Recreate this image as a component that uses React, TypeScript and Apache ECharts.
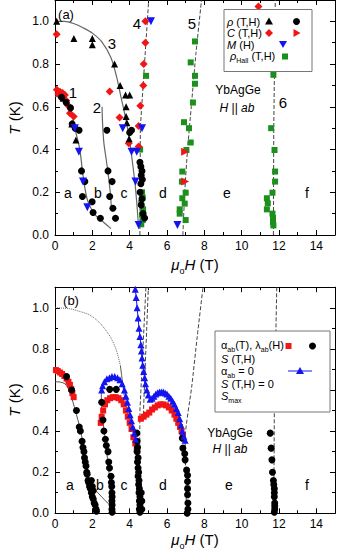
import React, { useEffect, useRef } from 'react';
import * as echarts from 'echarts';

const FONT = '"Liberation Sans", Arial, sans-serif';

// ---------- Panel (a) ----------
const rhoTriA = [[0.09,1.0],[1.01,0.92],[2.0,0.92],[2.0,0.89],[3.19,0.80],[3.49,0.70],[3.78,0.655],[4.0,0.655],[3.81,0.60],[3.81,0.555],[0.44,0.64],[0.9,0.52],[1.12,0.445],[3.85,0.525],[3.97,0.45]];
const rhoCircA = [[0.35,0.645],[0.6,0.62],[0.83,0.595],[0.92,0.52],[1.08,0.50],[1.29,0.49],[1.42,0.30],[1.6,0.25],[1.47,0.18],[1.99,0.156],[2.04,0.105],[2.43,0.078],[2.78,0.49],[2.84,0.30],[3.06,0.25],[2.93,0.18],[3.1,0.125],[3.24,0.078],[4.0,0.48],[4.1,0.49],[4.55,0.34],[4.6,0.32],[4.66,0.30],[4.62,0.28],[4.68,0.26],[4.6,0.24],[4.56,0.2],[4.66,0.17],[4.62,0.14],[4.72,0.1],[4.8,0.08]];
const cDiamA = [[0.09,0.94],[0.1,0.68],[0.18,0.66],[0.27,0.67],[0.35,0.655],[0.41,0.665],[0.53,0.655],[0.6,0.63],[0.71,0.605],[0.8,0.57],[1.0,0.555],[2.93,0.672],[3.46,0.55],[3.95,0.43],[4.84,1.0],[4.84,0.90],[4.75,0.80],[4.73,0.70],[4.57,0.605],[4.48,0.51],[4.48,0.414],[10.9,1.07]];
const cTriA = [[6.97,0.39],[6.97,0.25]];
const mA = [[5.14,1.0],[1.06,0.50],[3.63,0.50],[4.66,0.50],[1.28,0.39],[1.5,0.25],[1.73,0.13],[4.1,0.39],[4.38,0.39],[4.31,0.25],[4.48,0.047],[6.56,0.047]];
const hallA = [[4.88,0.745],[4.56,0.40],[4.66,0.2],[4.7,0.175],[4.62,0.15],[4.72,0.12],[4.66,0.095],[4.7,0.07],[4.62,0.05],[7.5,0.906],[7.27,0.808],[7.5,0.745],[7.5,0.708],[7.39,0.62],[6.91,0.528],[7.18,0.50],[7.27,0.433],[7.04,0.398],[6.82,0.297],[6.8,0.25],[7.0,0.198],[6.82,0.172],[6.95,0.147],[6.68,0.12],[6.68,0.1],[7.0,0.07],[11.7,0.75],[11.58,0.50],[11.76,0.398],[11.79,0.297],[11.79,0.25],[11.65,0.198],[11.35,0.172],[11.4,0.148],[11.35,0.12],[11.65,0.1],[11.68,0.08],[11.68,0.06],[11.7,0.045]];
const curve1A = [[0,0.65],[0.4,0.64],[0.8,0.6],[1.06,0.5],[1.33,0.4],[1.5,0.28],[1.75,0.16],[2.2,0.09],[2.6,0.06],[3.0,0.03]];
const curve2A = [[2.52,0.6],[2.55,0.52],[2.62,0.43],[2.75,0.35],[2.87,0.27],[2.96,0.2],[3.02,0.13]];
const curve3A = [[0,1.0],[0.5,1.0],[1.0,0.99],[1.5,0.97],[2.0,0.945],[2.5,0.905],[3.0,0.83],[3.3,0.74],[3.55,0.64],[3.8,0.54],[4.0,0.44],[4.15,0.34],[4.3,0.23],[4.4,0.13],[4.48,0.03]];
const line4A = [[4.55,0],[4.57,0.5],[5.02,1.1]];
const line5A = [[6.85,0],[6.95,0.2],[7.1,0.4],[7.3,0.6],[7.55,0.85],[7.85,1.1]];
const line6A = [[11.7,0],[11.72,0.5],[11.8,1.1]];

// ---------- Panel (b) ----------
const alphaB1 = [[0.05,0.697],[0.15,0.692],[0.27,0.685],[0.38,0.678],[0.5,0.668],[0.62,0.655],[0.72,0.64],[0.8,0.625],[0.87,0.605],[0.93,0.585],[1.0,0.565]];
const alphaB2 = [[2.45,0.44],[2.5,0.47],[2.58,0.5],[2.68,0.53],[2.8,0.55],[2.95,0.56],[3.1,0.565],[3.25,0.565],[3.4,0.56],[3.55,0.55],[3.68,0.53],[3.8,0.5],[3.9,0.47],[4.0,0.44],[4.1,0.41],[4.2,0.37],[4.3,0.34],[4.38,0.31]];
const alphaB3 = [[4.6,0.46],[4.75,0.47],[4.9,0.48],[5.05,0.49],[5.2,0.505],[5.35,0.515],[5.5,0.525],[5.65,0.53],[5.8,0.53],[5.95,0.525],[6.1,0.515],[6.25,0.5],[6.4,0.48],[6.5,0.46],[6.6,0.44],[6.7,0.42],[6.78,0.4],[6.85,0.38]];
const lambdaB = [
  [0.62,0.665],[0.89,0.60],[1.15,0.50],[1.3,0.42],[1.36,0.40],[1.45,0.35],[1.5,0.32],[1.55,0.30],[1.58,0.27],[1.62,0.25],[1.66,0.23],[1.7,0.2],[1.72,0.19],[1.77,0.16],[1.8,0.15],[1.85,0.13],[1.9,0.12],[1.95,0.10],[2.0,0.08],[2.05,0.07],[2.1,0.05],[2.15,0.04],[2.2,0.02],[2.22,0.01],[1.95,0.16],[2.0,0.13],[2.05,0.11],
  [2.93,0.603],[3.28,0.603],[2.5,0.54],[2.57,0.454],[2.62,0.40],[2.7,0.36],[2.75,0.33],[2.84,0.30],[2.88,0.25],[2.92,0.22],[3.0,0.18],[3.02,0.15],[3.04,0.13],[3.05,0.1],[3.06,0.08],[3.05,0.06],[3.06,0.04],[3.05,0.02],[3.06,0.005],
  [4.38,0.39],[4.4,0.35],[4.42,0.32],[4.4,0.3],[4.45,0.27],[4.42,0.25],[4.45,0.22],[4.48,0.2],[4.45,0.18],[4.5,0.16],[4.48,0.14],[4.52,0.12],[4.5,0.1],[4.55,0.08],[4.52,0.06],[4.55,0.04],[4.52,0.02],[4.55,0.005],[4.62,0.1],[4.65,0.06],[4.65,0.02],
  [6.82,0.365],[6.85,0.317],[6.95,0.29],[6.97,0.26],[7.05,0.21],[7.1,0.185],[7.1,0.155],[7.1,0.12],[7.1,0.09],[7.12,0.05],[7.12,0.02],[7.08,0.0],
  [11.53,0.39],[11.58,0.317],[11.62,0.26],[11.65,0.2],[11.7,0.16],[11.72,0.14],[11.75,0.12],[11.75,0.1],[11.75,0.08],[11.77,0.05],[11.77,0.035],[11.77,0.02],[11.75,0.005]
];
const blueB1 = [[2.5,0.6],[2.55,0.62],[2.65,0.64],[2.78,0.655],[2.92,0.66],[3.05,0.665],[3.2,0.665],[3.35,0.66],[3.48,0.65],[3.6,0.63],[3.72,0.6],[3.8,0.57],[3.88,0.54],[3.95,0.51],[4.02,0.48],[4.1,0.45],[4.17,0.42],[4.25,0.39],[4.32,0.36]];
const blueB2 = [[4.3,1.09],[4.35,1.05],[4.4,1.0],[4.45,0.95],[4.5,0.9],[4.55,0.86],[4.6,0.82],[4.63,0.79],[4.66,0.755],[4.7,0.72],[4.75,0.69],[4.8,0.66],[4.85,0.63],[4.92,0.6],[5.0,0.575],[5.1,0.555],[5.2,0.56],[5.3,0.57],[5.4,0.58],[5.5,0.587],[5.6,0.59],[5.7,0.59],[5.8,0.59],[5.9,0.585],[6.0,0.58],[6.1,0.57],[6.2,0.56],[6.3,0.545],[6.4,0.53],[6.5,0.51],[6.6,0.49],[6.68,0.46],[6.75,0.43],[6.82,0.4],[6.9,0.375],[6.97,0.355]];
const curve1B = [[0,0.64],[0.3,0.638],[0.53,0.63],[0.75,0.6],[0.9,0.56],[1.15,0.48],[1.42,0.38],[1.65,0.25],[1.86,0.15],[2.1,0.12],[2.5,0.08],[2.93,0.04]];
const curve2B = [[2.48,0.62],[2.49,0.52],[2.58,0.44],[2.66,0.38],[2.78,0.29],[2.89,0.2],[2.96,0.1],[3.0,0.03]];
const curve3Bdot = [[0,1.0],[0.8,0.995],[1.4,0.98],[1.86,0.965],[2.3,0.935],[2.57,0.908],[2.85,0.875],[3.1,0.835],[3.3,0.79],[3.5,0.72]];
const curve3Bsolid = [[3.5,0.72],[3.6,0.65],[3.7,0.58],[3.85,0.5],[4.05,0.43],[4.25,0.37],[4.35,0.3],[4.4,0.2],[4.42,0.1],[4.43,0.02]];
const line4B1 = [[4.52,0],[4.55,0.5],[4.87,1.1]];
const line4B2 = [[4.72,0.45],[5.0,1.1]];
const line5B = [[7.05,0],[7.0,0.2],[6.97,0.36],[7.33,0.62],[7.62,0.86],[7.93,1.1]];
const line6B = [[11.72,0],[11.75,0.5],[11.88,1.1]];

const RED = '#f21515';
const BLUE = '#1414f0';
const GREEN = '#1c8f1c';

function xAx(grid: number, pos: string, labels: boolean) {
  return {
    type: 'value', gridIndex: grid, position: pos, min: 0, max: 15, interval: 2,
    axisLine: { show: true, onZero: false, lineStyle: { color: '#000', width: 1 } },
    axisTick: { show: true, inside: true, length: 5, lineStyle: { color: '#000' } },
    minorTick: { show: true, splitNumber: 2, length: 3, lineStyle: { color: '#000' } },
    axisLabel: { show: labels, margin: 5, fontSize: 12, color: '#000', fontFamily: FONT, showMaxLabel: false },
    splitLine: { show: false },
  };
}
function yAx(grid: number, pos: string, labels: boolean) {
  return {
    type: 'value', gridIndex: grid, position: pos, min: 0, max: 1.1, interval: 0.2,
    axisLine: { show: true, onZero: false, lineStyle: { color: '#000', width: 1 } },
    axisTick: { show: true, inside: true, length: 5, lineStyle: { color: '#000' } },
    minorTick: { show: true, splitNumber: 2, length: 3, lineStyle: { color: '#000' } },
    axisLabel: { show: labels, margin: 6, fontSize: 12, color: '#000', fontFamily: FONT, showMaxLabel: false,
      formatter: (v: number) => v.toFixed(1) },
    splitLine: { show: false },
  };
}
function sc(data: number[][], g: number, symbol: string, color: string, size: number, rotate = 0) {
  return { type: 'scatter', xAxisIndex: g * 2, yAxisIndex: g * 2, data, symbol, symbolSize: size,
    symbolRotate: rotate, itemStyle: { color, opacity: 1 }, z: 5, silent: true };
}
function ln(data: number[][], g: number, color: string, type: string, width: number, smooth: number | boolean) {
  return { type: 'line', xAxisIndex: g * 2, yAxisIndex: g * 2, data, showSymbol: false, symbol: 'none',
    smooth, lineStyle: { color, type, width }, z: 3, silent: true };
}
function txt(x: number, y: number, text: string, size: number, extra: any = {}) {
  return { type: 'text', x, y, z: 120, rotation: extra.rotation || 0,
    style: { text, fill: '#000', font: `${extra.italic ? 'italic ' : ''}${size}px ${FONT}`,
      textAlign: extra.align || 'center', textVerticalAlign: 'middle', rich: extra.rich } };
}
const rich = (size: number) => ({
  n: { fontSize: size, fontFamily: FONT, verticalAlign: 'bottom', padding: [0, 0, 3, 0] },
  i: { fontSize: size, fontFamily: FONT, fontStyle: 'italic', verticalAlign: 'bottom', padding: [0, 0, 3, 0] },
  s: { fontSize: Math.round(size * 0.62), fontFamily: FONT, verticalAlign: 'bottom' },
});
const plain = (size: number) => ({
  i: { fontSize: size, fontFamily: FONT, fontStyle: 'italic' },
  n: { fontSize: size, fontFamily: FONT },
});
const tri = (x: number, y: number, c: string) => ({ type: 'polygon', z: 120, shape: { points: [[x, y - 4], [x + 4, y + 3], [x - 4, y + 3]] }, style: { fill: c } });
const dtri = (x: number, y: number, c: string) => ({ type: 'polygon', z: 120, shape: { points: [[x - 4, y - 3], [x + 4, y - 3], [x, y + 4]] }, style: { fill: c } });
const rtri = (x: number, y: number, c: string) => ({ type: 'polygon', z: 120, shape: { points: [[x + 4, y], [x - 3, y - 4], [x - 3, y + 4]] }, style: { fill: c } });
const dia = (x: number, y: number, c: string) => ({ type: 'polygon', z: 120, shape: { points: [[x, y - 4], [x + 4, y], [x, y + 4], [x - 4, y]] }, style: { fill: c } });
const circ = (x: number, y: number, c: string) => ({ type: 'circle', z: 120, shape: { cx: x, cy: y, r: 3.5 }, style: { fill: c } });
const sq = (x: number, y: number, c: string) => ({ type: 'rect', z: 120, shape: { x: x - 3, y: y - 3, width: 6, height: 6 }, style: { fill: c } });

export default function App() {
  const ref = useRef<HTMLDivElement>(null);
  useEffect(() => {
    const chart = echarts.init(ref.current!, null, { renderer: 'svg' });
    const option: any = {
      animation: false,
      backgroundColor: '#fff',
      grid: [
        { left: 55, top: 0, width: 280, height: 235 },
        { left: 55, top: 287.2, width: 280, height: 226.1 },
      ],
      xAxis: [xAx(0, 'bottom', true), xAx(0, 'top', false), xAx(1, 'bottom', true), xAx(1, 'top', false)],
      yAxis: [yAx(0, 'left', true), yAx(0, 'right', false), yAx(1, 'left', true), yAx(1, 'right', false)],
      series: [
        ln(curve1A, 0, '#666', 'solid', 1.2, 0.3),
        ln(curve2A, 0, '#666', 'solid', 1.2, 0.3),
        ln(curve3A, 0, '#666', 'solid', 1.2, 0.3),
        ln(line4A, 0, '#444', 'dashed', 1, false),
        ln(line5A, 0, '#444', 'dashed', 1, 0.2),
        ln(line6A, 0, '#444', 'dashed', 1, false),
        sc(hallA, 0, 'rect', GREEN, 6),
        sc(cDiamA, 0, 'diamond', RED, 8),
        sc(cTriA, 0, 'triangle', RED, 8, -90),
        sc(rhoTriA, 0, 'triangle', '#000', 7),
        sc(rhoCircA, 0, 'circle', '#000', 7),
        sc(mA, 0, 'triangle', BLUE, 8, 180),

        ln(curve1B, 1, '#555', 'solid', 1, 0.3),
        ln(curve2B, 1, '#555', 'solid', 1, 0.3),
        ln(curve3Bdot, 1, '#666', 'dotted', 1, 0.3),
        ln(curve3Bsolid, 1, '#555', 'solid', 1, 0.3),
        ln(line4B1, 1, '#444', 'dashed', 1, false),
        ln(line4B2, 1, '#444', 'dashed', 1, false),
        ln(line5B, 1, '#444', 'dashed', 1, 0.2),
        ln(line6B, 1, '#444', 'dashed', 1, false),
        sc(alphaB1, 1, 'rect', RED, 6),
        sc(alphaB2, 1, 'rect', RED, 6),
        sc(alphaB3, 1, 'rect', RED, 6),
        sc(lambdaB, 1, 'circle', '#000', 7),
        { type: 'line', xAxisIndex: 2, yAxisIndex: 2, data: blueB1, symbol: 'triangle', symbolSize: 7, showSymbol: true,
          itemStyle: { color: BLUE }, lineStyle: { color: BLUE, width: 1 }, z: 6, silent: true },
        { type: 'line', xAxisIndex: 2, yAxisIndex: 2, data: blueB2, symbol: 'triangle', symbolSize: 7, showSymbol: true,
          itemStyle: { color: BLUE }, lineStyle: { color: BLUE, width: 1 }, z: 6, silent: true },
      ],
      graphic: [
        // panel (a) annotations
        txt(66, 14, '(a)', 13),
        txt(73, 92, '1', 15), txt(97, 107, '2', 15), txt(112, 43, '3', 15),
        txt(137, 23, '4', 15), txt(192, 23, '5', 15), txt(283, 102, '6', 15),
        txt(238, 90, 'YbAgGe', 12),
        txt(237, 108, '{i|H} {n|||} {i|ab}', 12, { rich: plain(12) }),
        txt(68, 193, 'a', 14), txt(98, 193, 'b', 14), txt(124, 193, 'c', 14),
        txt(163, 193, 'd', 14), txt(227, 193, 'e', 14), txt(307, 193, 'f', 14),
        // legend (a)
        { type: 'rect', z: 110, shape: { x: 224, y: 9.5, width: 88, height: 62 }, style: { fill: '#fff', stroke: '#777', lineWidth: 1 } },
        txt(227, 22, '{i|ρ} {n|(T,H)}', 11, { align: 'left', rich: plain(11) }),
        txt(227, 33, '{i|C} {n|(T,H)}', 11, { align: 'left', rich: plain(11) }),
        txt(227, 44.5, '{i|M} {n|(H)}', 11, { align: 'left', rich: plain(11) }),
        txt(230, 57, '{i|ρ}{s|Hall} {n|(T,H)}', 11, { align: 'left', rich: rich(11) }),
        tri(269, 21.5, '#000'), circ(296.5, 21.5, '#000'),
        dia(269, 33, RED), rtri(296.5, 33, RED),
        dtri(283, 44, BLUE),
        sq(285, 56.5, GREEN),
        // axis titles
        txt(195, 266, '{i|μ}{s|o}{i|H} {n|(T)}', 15, { rich: rich(15) }),
        txt(195, 541, '{i|μ}{s|o}{i|H} {n|(T)}', 15, { rich: rich(15) }),
        txt(14, 118, '{i|T} {n|(K)}', 15, { rotation: Math.PI / 2, rich: plain(15) }),
        txt(14, 400, '{i|T} {n|(K)}', 15, { rotation: Math.PI / 2, rich: plain(15) }),
        // panel (b) annotations
        txt(71, 300, '(b)', 13),
        txt(230, 433, 'YbAgGe', 12),
        txt(230, 449, '{i|H} {n|||} {i|ab}', 12, { rich: plain(12) }),
        txt(70, 485, 'a', 14), txt(100, 485, 'b', 14), txt(124, 485, 'c', 14),
        txt(163, 485, 'd', 14), txt(229, 485, 'e', 14), txt(307, 485, 'f', 14),
        // legend (b)
        { type: 'rect', z: 110, shape: { x: 215, y: 331, width: 115, height: 81 }, style: { fill: '#fff', stroke: '#777', lineWidth: 1 } },
        txt(221, 346, '{n|α}{s|ab}{n|(T), λ}{s|ab}{n|(H)}', 11, { align: 'left', rich: rich(11) }),
        txt(221, 360, '{i|S} {n|(T,H)}', 11, { align: 'left', rich: rich(11) }),
        txt(221, 372, '{n|α}{s|ab}{n| = 0}', 11, { align: 'left', rich: rich(11) }),
        txt(221, 385, '{i|S} {n|(T,H) = 0}', 11, { align: 'left', rich: rich(11) }),
        txt(221, 397, '{i|S}{s|max}', 11, { align: 'left', rich: rich(11) }),
        sq(288.5, 346, RED), circ(312.5, 346, '#000'),
        { type: 'line', z: 120, shape: { x1: 288, y1: 371, x2: 312, y2: 371 }, style: { stroke: BLUE, lineWidth: 1 } },
        tri(300, 371, BLUE),
      ],
    };
    chart.setOption(option);
    return () => chart.dispose();
  }, []);
  return <div ref={ref} style={{ position: 'fixed', left: 0, top: 0, width: 348, height: 554, background: '#fff' }} />;
}
